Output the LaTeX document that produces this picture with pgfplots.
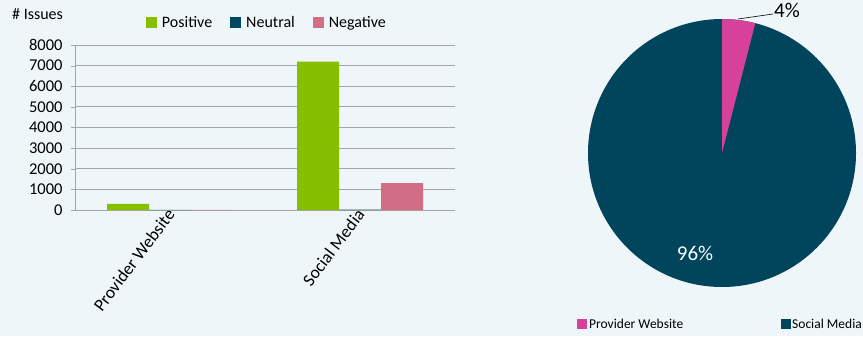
\documentclass[border=0pt]{standalone}
\usepackage{pgfplots}
\pgfplotsset{compat=1.18}
\usepackage{fontspec}
\setmainfont{Carlito}
\definecolor{bg}{HTML}{EEF6FA}
\definecolor{cpos}{HTML}{86BE00}
\definecolor{cneu}{HTML}{00475F}
\definecolor{cneg}{HTML}{D16E86}
\definecolor{ppink}{HTML}{D6429A}
\definecolor{pdark}{HTML}{00455C}
\definecolor{gridc}{HTML}{A6A6A6}
\begin{document}
\begin{tikzpicture}[x=1bp,y=1bp]
\fill[bg] (0,0) rectangle (863,336);
\useasboundingbox (0,0) rectangle (863,336);
\node[anchor=west,font=\fontsize{16bp}{18bp}\selectfont, inner sep=0pt] at (12,322) {\# Issues};
\begin{axis}[
  at={(75bp,126bp)}, anchor=south west,
  scale only axis, width=380bp, height=165bp,
  ybar=0pt, bar width=42bp,
  xmin=-0.5, xmax=1.5, ymin=0, ymax=8000,
  axis lines*=left,
  axis line style={gridc},
  xtick={0,1}, xticklabels={Provider Website,Social Media},
  xticklabel style={rotate=53, anchor=east, xshift=6bp, yshift=1bp, font=\fontsize{17.5bp}{19bp}\selectfont},
  major x tick style={draw=none},
  extra x ticks={-0.5,0.5,1.5}, extra x tick labels={},
  extra x tick style={major tick length=5bp, tick style={gridc}, tick align=outside},
  ytick distance=1000,
  ymajorgrids, grid style={gridc, line width=0.8pt},
  ytick style={gridc}, tick align=outside, major tick length=4bp,
  yticklabel style={font=\fontsize{16.5bp}{18bp}\selectfont, xshift=-5bp},
  /pgf/number format/assume math mode=true,
  scaled y ticks=false,
  y tick label style={/pgf/number format/1000 sep={}},
  legend style={at={(0.505,1.07)}, anchor=south, draw=none, fill=none,
    legend columns=3, font=\fontsize{16bp}{18bp}\selectfont,
    /tikz/every odd column/.append style={column sep=3bp},
    /tikz/every even column/.append style={column sep=16bp}},
  legend image code/.code={\fill (0bp,-5bp) rectangle (11bp,6bp);},
]
\addplot[fill=cpos, draw=none] coordinates {(0,300) (1,7200)};
\addplot[fill=cneu, draw=none] coordinates {(0,10) (1,15)};
\addplot[fill=cneg, draw=none] coordinates {(0,5) (1,1300)};
\legend{Positive,Neutral,Negative}
\end{axis}
% pie chart
\def\pA{4}\def\pB{96}
\def\R{134}
\fill[pdark] (722,183) -- ++(90:\R) arc[start angle=90, end angle={90-3.6*\pA-3.6*\pB}, radius=\R] -- cycle;
\fill[ppink] (722,183) -- ++(90:\R) arc[start angle=90, end angle={90-3.6*\pA}, radius=\R] -- cycle;
\draw[black, line width=0.6pt] (738,317) -- (773,322);
\node[anchor=west, font=\fontsize{21bp}{23bp}\selectfont, inner sep=1bp] at (773,326) {\pA\%};
\node[white, font=\fontsize{21bp}{23bp}\selectfont] at (695,83) {\pB\%};
\fill[ppink] (577,7) rectangle (587,17);
\node[anchor=west, font=\fontsize{13.5bp}{16bp}\selectfont, inner sep=0pt] at (589,12) {Provider Website};
\fill[pdark] (781,7) rectangle (791,17);
\node[anchor=west, font=\fontsize{13.5bp}{16bp}\selectfont, inner sep=0pt] at (792,12) {Social Media};
\end{tikzpicture}
\end{document}
